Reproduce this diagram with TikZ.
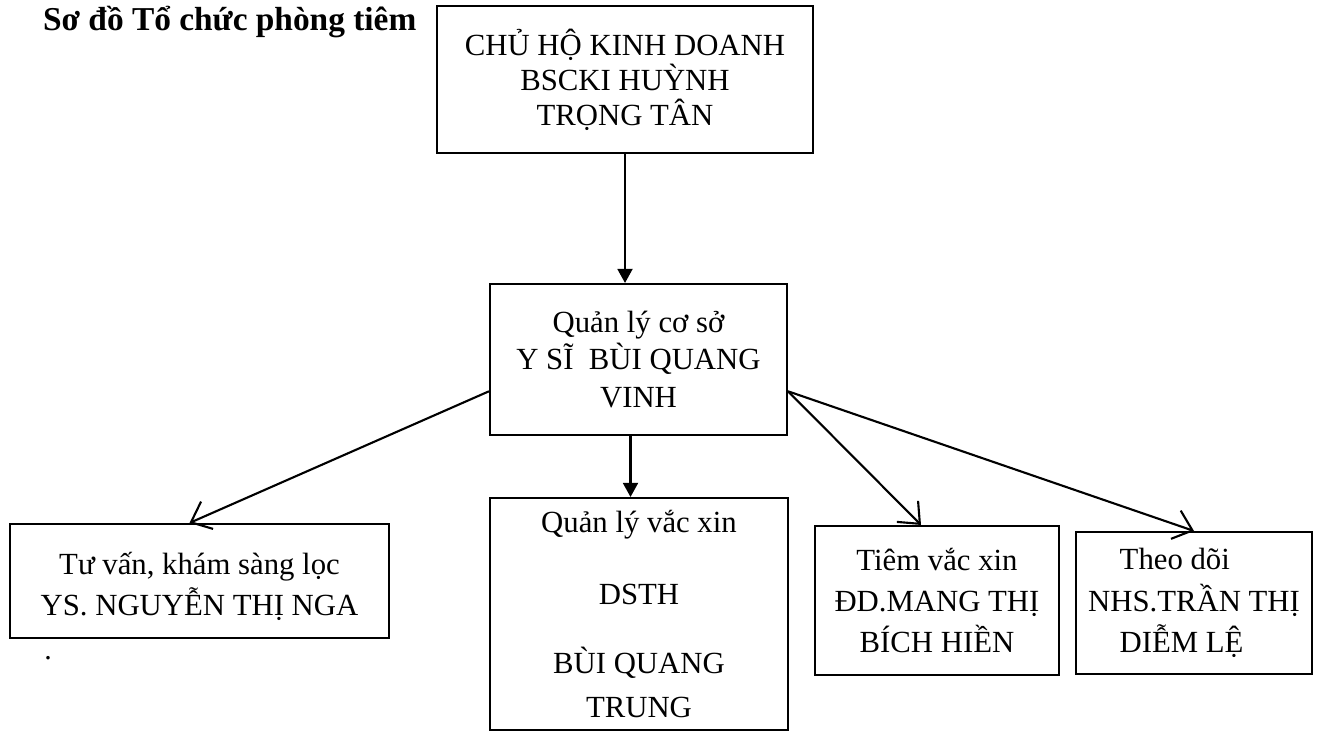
\documentclass[tikz,border=0pt]{standalone}
\usepackage{fontspec}
\setmainfont{Liberation Serif}
\usepackage{tikz}
\usetikzlibrary{arrows.meta}

\begin{document}
\begin{tikzpicture}[x=0.02cm,y=-0.02cm,line width=1.2pt,
    khung/.style={draw,align=center,inner sep=2pt,font=\fontsize{17.5}{#1}\selectfont},
    khung/.default=23.5pt,
    muiten/.style={-{Straight Barb[length=10pt,width=17pt]}},
    muidac/.style={-{Triangle[length=8pt,width=8.5pt]}}]
            \useasboundingbox (0,0) rectangle (1332,735);

            \node[anchor=base west,inner sep=0pt,font=\fontsize{19}{22}\selectfont\bfseries] (tieude) at (42,30) {Sơ đồ Tổ chức phòng tiêm};

            \node[khung=20pt,minimum width=7.52cm,minimum height=2.94cm] (chuho) at (625,79.5)
                {CHỦ HỘ KINH DOANH\\BSCKI HUỲNH\\TRỌNG TÂN};
            \node[khung=21.5pt,minimum width=5.94cm,minimum height=3.02cm] (quanly) at (638.5,359.5)
                {Quản lý cơ sở\\Y SĨ \ BÙI QUANG\\VINH};

            \node[khung,minimum width=7.58cm,minimum height=2.28cm] (tuvan) at (199.5,581)
                {\rule{0pt}{19pt}Tư vấn, khám sàng lọc\\YS. NGUYỄN THỊ NGA};
            \node[khung=24.6pt,minimum width=5.96cm,minimum height=4.64cm] (vacxin) at (639,614)
                {Quản lý vắc xin\\[16pt]DSTH\\[15pt]BÙI QUANG\\TRUNG};
            \node[khung,minimum width=4.88cm,minimum height=2.98cm] (tiem) at (937,600.5)
                {Tiêm vắc xin\\ĐD.MANG THỊ\\BÍCH HIỀN};
            \node[khung,align=left,minimum width=4.72cm,minimum height=2.84cm] (theodoi) at (1194,603)
                {\hspace*{18pt}Theo dõi\\NHS.TRẦN THỊ\\\hspace*{18pt}DIỄM LỆ};

            \node[anchor=base,inner sep=0pt,font=\fontsize{17}{20}\selectfont] (cham) at (48,659) {.};

            \draw[muidac] (chuho.south) -- (chuho.south |- quanly.north);
            \draw[muidac] ([xshift=-0.16cm]quanly.south) -- ([xshift=-0.16cm]quanly.south |- vacxin.north);
            \draw[muiten] (quanly.192) -- ([xshift=-0.2cm]tuvan.north);
            \draw[muiten] (quanly.-12) -- ([xshift=-0.32cm]tiem.north);
            \draw[muiten] (quanly.-12) -- (theodoi.north);
        \end{tikzpicture}
\end{document}
